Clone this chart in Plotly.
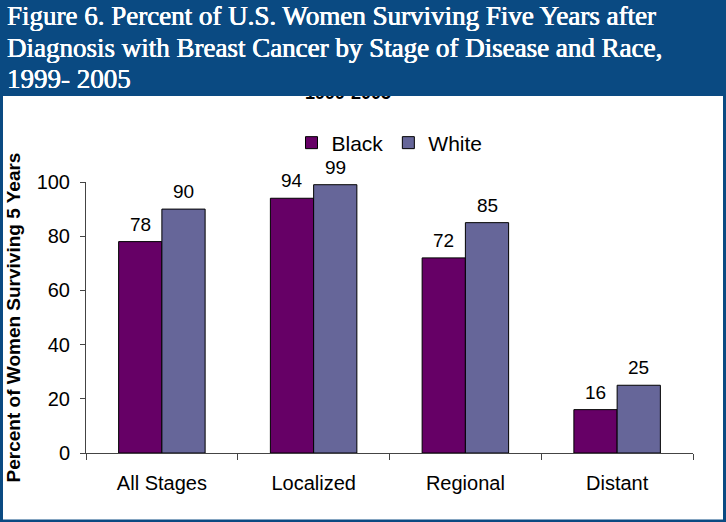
import plotly.graph_objects as go

categories = ["All Stages", "Localized", "Regional", "Distant"]
black_vals = [78, 94, 72, 16]
white_vals = [90, 99, 85, 25]
series_names = ["Black", "White"]
y_ticks = [0, 20, 40, 60, 80, 100]
title_lines = [
    "Figure 6. Percent of U.S. Women Surviving Five Years after",
    "Diagnosis with Breast Cancer by Stage of Disease and Race,",
    "1999- 2005",
]
hidden_subtitle = "1999-2005"
y_title = "Percent of Women Surviving 5 Years"

W, H = 726, 522
# plot area in pixels
PL, PR, PT, PB = 86, 693, 182, 453

def fx(x):
    return x / W

def fy(y):
    return (H - y) / H

HEADER = "#0a4a82"
C_BLACK = "#660066"
C_WHITE = "#666699"

fig = go.Figure()
fig.add_trace(go.Bar(name=series_names[0], x=categories, y=black_vals,
                     marker=dict(color=C_BLACK, line=dict(color="black", width=1)),
                     cliponaxis=False, hoverinfo="skip"))
fig.add_trace(go.Bar(name=series_names[1], x=categories, y=white_vals,
                     marker=dict(color=C_WHITE, line=dict(color="black", width=1)),
                     cliponaxis=False, hoverinfo="skip"))
# partially hidden subtitle (covered by the header band)
fig.add_trace(go.Scatter(x=[fx(348)], y=[fy(94.5)], text=[hidden_subtitle], mode="text",
                         textfont=dict(family="Arial, Liberation Sans", size=18, color="black"),
                         texttemplate="<b>%{text}</b>",
                         xaxis="x2", yaxis="y2", showlegend=False, cliponaxis=True,
                         hoverinfo="skip"))

annotations = []
bar_half = 21.8
for vals, shift in ((black_vals, -bar_half), (white_vals, bar_half)):
    for c, v in zip(categories, vals):
        annotations.append(dict(x=c, y=v, xref="x", yref="y", text=str(v), showarrow=False,
                                xshift=shift, yanchor="bottom", yshift=5,
                                font=dict(family="Arial, Liberation Sans", size=19, color="black")))
line_y = [16, 48, 79]
for t, yy in zip(title_lines, line_y):
    annotations.append(dict(x=fx(5), y=fy(yy), xref="paper", yref="paper", text=t,
                            showarrow=False, xanchor="left", yanchor="middle",
                            font=dict(family="Liberation Serif", size=27, color="white",
                                      shadow="0.35px 0 0 white, -0.35px 0 0 white")))

shapes = [
    # white panel
    dict(type="rect", xref="paper", yref="paper", x0=fx(3), x1=fx(723), y0=fy(519.5), y1=fy(95),
         fillcolor="white", line=dict(width=0), layer="below"),
    # header band covering top
    dict(type="rect", xref="paper", yref="paper", x0=0, x1=1, y0=fy(96), y1=1,
         fillcolor=HEADER, line=dict(width=0), layer="above"),
]

fig.update_layout(
    width=W, height=H,
    margin=dict(l=0, r=0, t=0, b=0, autoexpand=False),
    paper_bgcolor=HEADER, plot_bgcolor="rgba(0,0,0,0)",
    barmode="group", bargap=0.43, bargroupgap=0,
    font=dict(family="Arial, Liberation Sans", color="black"),
    showlegend=True,
    legend=dict(orientation="h", x=fx((PL + PR) / 2), xanchor="center", y=fy(143), yanchor="middle",
                font=dict(size=21, color="black"), bgcolor="rgba(0,0,0,0)", traceorder="normal",
                itemwidth=30),
    xaxis=dict(type="category", domain=[fx(PL), fx(PR)], showgrid=False, showline=True,
               linecolor="#444", linewidth=1,
               ticks="outside", tickson="boundaries", ticklen=6, tickcolor="#444",
               tickfont=dict(size=20), ticklabelstandoff=12, fixedrange=True),
    yaxis=dict(range=[0, 100], domain=[fy(PB), fy(PT)], tickvals=y_ticks, showgrid=False,
               showline=True, linecolor="#444",
               linewidth=1, ticks="outside", ticklen=5, tickcolor="#444", tickfont=dict(size=20),
               ticklabelstandoff=6, zeroline=False, fixedrange=True,
               title=dict(text="<b>" + y_title + "</b>", font=dict(size=19), standoff=10)),
    xaxis2=dict(range=[0, 1], domain=[0, 1], anchor="y2", visible=False, fixedrange=True),
    yaxis2=dict(range=[0, 1], domain=[0, 1], anchor="x2", visible=False, fixedrange=True),
    annotations=annotations,
    shapes=shapes,
)

fig.write_html("out.html", config={"displayModeBar": False},
               post_script="document.body.style.margin='0';document.body.style.overflow='hidden';")
